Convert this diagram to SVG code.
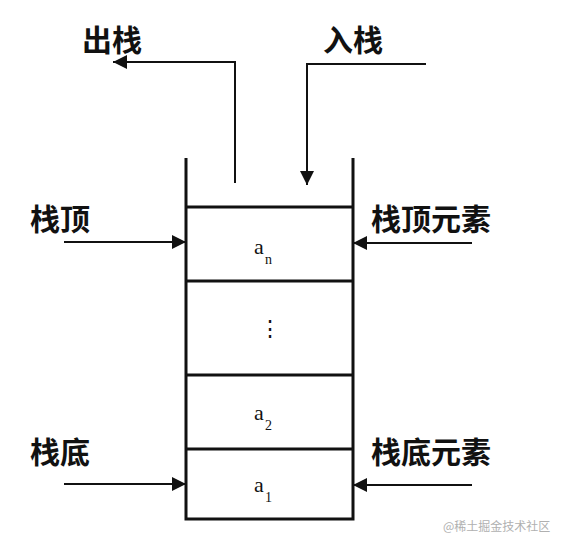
<svg xmlns="http://www.w3.org/2000/svg" width="562" height="548" viewBox="0 0 562 548">
<style>
.lbl{font-family:"Noto Sans CJK SC","Noto Sans",sans-serif;font-size:30px;font-weight:700;fill:#111}
.cell{font-family:"Liberation Serif",serif;font-size:22px;fill:#111}
.sub{font-family:"Liberation Serif",serif;font-size:14px;fill:#111}
.wall{stroke:#111;stroke-width:3;fill:none}
.conn{stroke:#111;stroke-width:2;fill:none}
.wm{font-family:"Noto Sans CJK SC",sans-serif;font-size:12px;fill:#b0b0b0}
</style>
<defs>
<marker id="ahb" viewBox="0 0 10 10" refX="10" refY="5" markerWidth="16" markerHeight="14" markerUnits="userSpaceOnUse" orient="auto">
<path d="M0,0 L10,5 L0,10 z" fill="#111"/>
</marker>
</defs>
<rect width="562" height="548" fill="#fff"/>
<g id="stack">
<path class="wall" d="M186,158 V519 H353 V158"/>
<line class="wall" x1="186" y1="207" x2="353" y2="207"/>
<line class="wall" x1="186" y1="281" x2="353" y2="281"/>
<line class="wall" x1="186" y1="375" x2="353" y2="375"/>
<line class="wall" x1="186" y1="449" x2="353" y2="449"/>
</g>
<g id="cell-an"><text class="cell" x="254" y="254">a</text><text class="sub" x="265" y="264">n</text></g>
<g id="cell-dots"><text class="cell" x="259" y="336">⋮</text></g>
<g id="cell-a2"><text class="cell" x="254" y="420">a</text><text class="sub" x="265" y="430">2</text></g>
<g id="cell-a1"><text class="cell" x="254" y="492">a</text><text class="sub" x="265" y="502">1</text></g>
<g id="connectors">
<path class="conn" d="M235,183 V62 H113" marker-end="url(#ahb)"/>
<path class="conn" d="M426,64 H307 V185" marker-end="url(#ahb)"/>
<line class="conn" x1="64" y1="242" x2="186" y2="242" marker-end="url(#ahb)"/>
<line class="conn" x1="472" y1="243" x2="353" y2="243" marker-end="url(#ahb)"/>
<line class="conn" x1="64" y1="484" x2="186" y2="484" marker-end="url(#ahb)"/>
<line class="conn" x1="472" y1="485" x2="353" y2="485" marker-end="url(#ahb)"/>
</g>
<g id="label-out"><text class="lbl" x="82" y="51">出栈</text></g>
<g id="label-in"><text class="lbl" x="323" y="51">入栈</text></g>
<g id="label-top"><text class="lbl" x="30" y="230">栈顶</text></g>
<g id="label-top-elem"><text class="lbl" x="371" y="230">栈顶元素</text></g>
<g id="label-bottom"><text class="lbl" x="30" y="463">栈底</text></g>
<g id="label-bottom-elem"><text class="lbl" x="371" y="463">栈底元素</text></g>
<text class="wm" x="443" y="531">@稀土掘金技术社区</text>
</svg>
